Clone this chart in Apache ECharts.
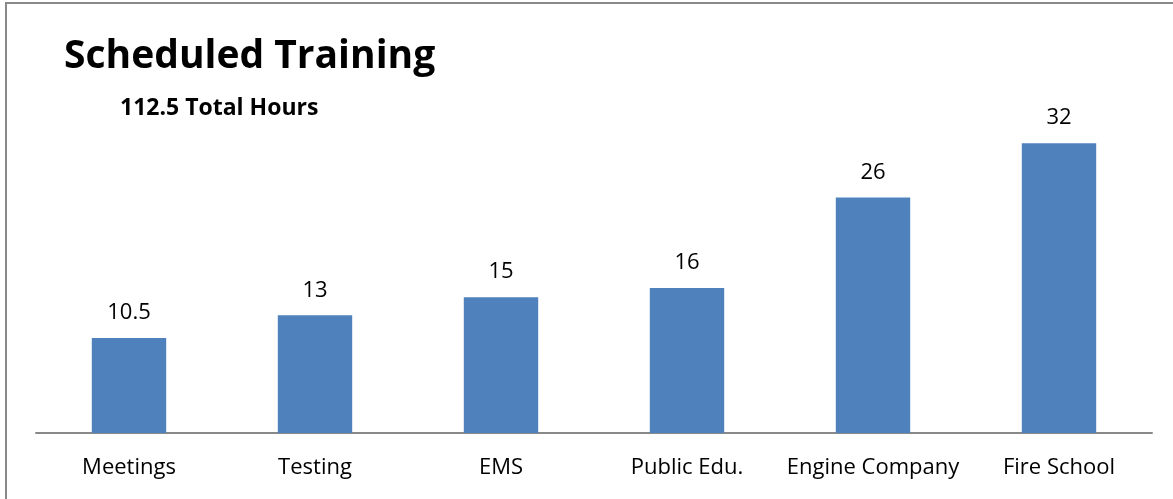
<!DOCTYPE html>
<html><head><meta charset="utf-8">
<script src="https://cdn.jsdelivr.net/npm/echarts@6/dist/echarts.min.js"></script>
<style>html,body{margin:0;padding:0;background:#fff}#c{width:1173px;height:499px}</style>
</head><body><div id="c"></div>
<script>
const categories = ["Meetings", "Testing", "EMS", "Public Edu.", "Engine Company", "Fire School"];
const hours = [10.5, 13, 15, 16, 26, 32];
const titleText = "Scheduled Training";
const subtitleText = "112.5 Total Hours";
const FONT = "'Open Sans', sans-serif";
const chart = echarts.init(document.getElementById('c'), null, {renderer: 'canvas'});
chart.setOption({
  animation: false,
  backgroundColor: '#fff',
  title: [
    {text: titleText, left: 59, top: 32, textStyle: {fontFamily: FONT, fontSize: 39, fontWeight: 'bold', color: '#000'}},
    {text: subtitleText, left: 115, top: 92, textStyle: {fontFamily: FONT, fontSize: 23, fontWeight: 'bold', color: '#000'}}
  ],
  graphic: [{type: 'rect', shape: {x: 6, y: 3, width: 1300, height: 700}, style: {fill: null, stroke: '#898989', lineWidth: 2}, z: 100}],
  grid: {left: 36, right: 21, top: 116, bottom: 66, containLabel: false},
  xAxis: {
    type: 'category', data: categories,
    axisLine: {show: true, lineStyle: {color: '#898989', width: 2}},
    axisTick: {show: false},
    axisLabel: {fontFamily: FONT, fontSize: 22, color: '#000', margin: 24, interval: 0}
  },
  yAxis: {type: 'value', min: 0, max: 35, show: false, splitLine: {show: false}},
  series: [{
    type: 'bar', data: hours, barWidth: '40%',
    itemStyle: {color: '#4F81BD'},
    label: {show: true, position: 'top', distance: 14, fontFamily: FONT, fontSize: 22, color: '#000'}
  }]
});
</script></body></html>
